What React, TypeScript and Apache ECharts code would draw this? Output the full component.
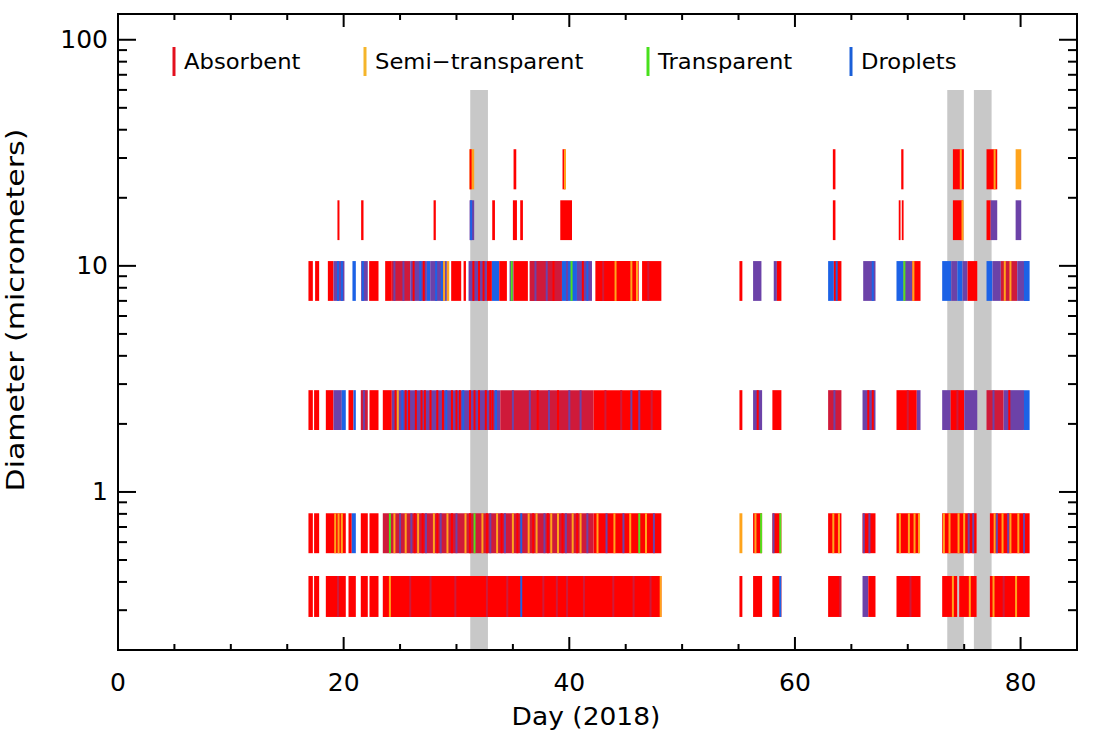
import React, { useEffect, useRef } from "react";
import * as echarts from "echarts";

// ---------- axes ----------
const X_MIN = 0;
const X_MAX = 85;
const Y_MIN = 0.2;
const Y_MAX = 130;
const X_MAJOR_TICKS = [0, 20, 40, 60, 80];
const X_MINOR_TICKS = [5, 10, 15, 25, 30, 35, 45, 50, 55, 65, 70, 75];
const Y_MAJOR_TICKS = [1, 10, 100];
const Y_MINOR_TICKS = [0.3, 0.4, 0.5, 0.6, 0.7, 0.8, 0.9, 2, 3, 4, 5, 6, 7, 8, 9, 20, 30, 40, 50, 60, 70, 80, 90];

// ---------- shaded periods (days) ----------
const GAP_START = [31.22, 73.5, 75.86];
const GAP_END = [32.79, 74.97, 77.43];
const GAP_TOP = 60;

// ---------- size bins (micrometers) ----------
const ROW_LOW = [0.28, 0.536, 1.88, 7.0, 13.0, 21.8];
const ROW_HIGH = [0.425, 0.805, 2.82, 10.5, 19.5, 32.8];

// ---------- legend ----------
const LEGEND_LABELS = ["Absorbent", "Semi\u2212transparent", "Transparent", "Droplets"];
const LEGEND_COLORS = ["#e3101e", "#f5b52a", "#48e01c", "#1a5fd8"];

// A absorbent, S semi-transparent, T transparent, D droplets,
// M absorbent+droplets mixed, C absorbent with some droplets
const CODE_COLORS: Record<string, string> = {
  A: "#ff0000",
  S: "#ffa41c",
  T: "#52e01e",
  D: "#1c62e6",
  M: "#6c42a8",
  C: "#cf1a3a",
};

// ---------- observed segments per bin: [startDay, endDay, type] ----------
const ROW0_SEGMENTS: [number, number, string][] = [
  [16.88, 17.27, "A"], [17.38, 17.83, "A"], [18.42, 20.19, "A"], [20.43, 21.08, "A"],
  [21.52, 22.14, "A"], [22.29, 23.09, "A"], [23.47, 48.16, "A"],
  [55.08, 55.34, "A"], [56.29, 57.09, "A"], [58.0, 58.8, "A"], [62.94, 64.12, "A"],
  [65.99, 66.5, "M"], [66.5, 67.14, "A"], [69.0, 71.13, "A"], [73.05, 74.38, "A"],
  [74.56, 76.1, "A"], [77.28, 80.8, "A"],
];
const ROW1_SEGMENTS: [number, number, string][] = [
  [16.88, 17.27, "A"], [17.38, 17.83, "A"], [18.42, 20.19, "A"], [20.43, 20.72, "A"],
  [20.72, 21.08, "D"], [21.52, 22.14, "A"], [22.29, 23.09, "A"], [23.47, 42.16, "C"],
  [42.16, 48.16, "A"],
  [55.08, 55.34, "S"], [56.29, 57.09, "A"], [58.0, 58.8, "A"], [62.94, 64.12, "A"],
  [65.99, 67.14, "A"], [69.0, 71.04, "A"], [73.05, 76.1, "A"], [77.28, 80.8, "A"],
];
const ROW2_SEGMENTS: [number, number, string][] = [
  [16.88, 17.27, "A"], [17.38, 17.83, "A"], [18.42, 19.1, "A"], [19.1, 19.84, "M"],
  [19.84, 20.19, "D"], [20.43, 20.87, "A"], [20.87, 21.08, "D"], [21.52, 22.14, "C"],
  [22.29, 23.09, "A"], [23.47, 24.27, "A"], [24.27, 33.88, "M"], [33.88, 42.16, "C"],
  [42.16, 48.16, "A"],
  [55.08, 55.34, "A"], [56.29, 57.09, "M"], [58.0, 58.8, "A"], [62.94, 64.12, "C"],
  [65.99, 67.14, "M"], [69.0, 70.8, "A"], [70.8, 71.13, "M"], [73.05, 73.8, "M"],
  [73.8, 75.0, "A"], [75.0, 76.16, "M"], [76.98, 78.5, "C"], [78.5, 80.3, "M"],
  [80.3, 80.8, "D"],
];
const ROW3_SEGMENTS: [number, number, string][] = [
  [16.88, 17.27, "A"], [17.47, 17.83, "A"], [18.6, 19.1, "A"], [19.1, 20.07, "M"],
  [20.78, 21.08, "D"], [21.55, 22.14, "M"], [22.26, 23.09, "A"], [23.68, 24.27, "A"],
  [24.27, 25.9, "C"], [25.9, 27.38, "M"], [27.38, 27.67, "D"], [27.67, 29.15, "M"],
  [29.15, 29.36, "S"], [29.53, 30.42, "A"], [30.63, 30.84, "A"], [31.07, 32.7, "M"],
  [32.7, 33.14, "A"], [33.14, 33.79, "D"], [33.79, 34.47, "A"], [34.71, 35.06, "M"],
  [35.06, 36.33, "A"], [36.48, 39.35, "C"], [39.35, 40.68, "D"], [40.68, 42.01, "M"],
  [42.31, 46.15, "A"], [46.45, 48.16, "A"],
  [55.08, 55.34, "A"], [56.29, 57.03, "M"], [58.12, 58.4, "M"], [58.4, 58.8, "A"],
  [62.94, 63.45, "D"], [63.45, 64.12, "A"], [66.05, 67.14, "M"], [69.0, 69.6, "D"],
  [69.6, 70.4, "M"], [70.4, 71.13, "A"], [73.05, 73.85, "D"], [73.85, 74.4, "M"],
  [74.4, 74.85, "D"], [74.85, 75.3, "M"], [75.3, 76.16, "A"], [76.98, 77.5, "D"],
  [77.5, 78.25, "M"], [78.25, 79.7, "C"], [79.7, 80.3, "M"], [80.3, 80.8, "D"],
];
const ROW4_SEGMENTS: [number, number, string][] = [
  [19.45, 19.63, "A"], [21.55, 21.76, "A"], [27.97, 28.17, "A"], [31.16, 31.57, "M"],
  [33.17, 33.41, "A"], [35.0, 35.36, "A"], [35.65, 35.89, "A"], [39.2, 40.24, "A"],
  [63.36, 63.59, "A"], [69.2, 69.33, "A"], [69.47, 69.6, "A"], [74.0, 74.91, "A"],
  [76.98, 77.35, "A"], [77.35, 77.93, "M"], [79.56, 80.06, "M"],
];
const ROW5_SEGMENTS: [number, number, string][] = [
  [31.16, 31.57, "S"], [35.06, 35.3, "A"], [39.4, 39.65, "A"], [63.36, 63.59, "A"],
  [69.42, 69.62, "A"], [74.0, 74.97, "A"], [76.98, 77.93, "A"], [79.56, 80.06, "S"],
];

// ---------- single observations drawn as thin lines: [day, type] ----------
const ROW0_STRIPES: [number, string][] = [
  [19.5, "C"], [24.1, "S"], [25.9, "C"], [27.7, "C"], [29.9, "C"], [32.7, "C"], [34.5, "C"],
  [35.74, "D"], [37.7, "C"], [38.9, "C"], [39.8, "C"], [41.3, "C"], [43.9, "C"], [45.7, "C"],
  [47.2, "C"], [48.1, "S"], [58.7, "D"], [64.0, "C"], [70.24, "C"], [74.0, "S"], [75.5, "S"],
  [77.6, "S"], [78.5, "C"], [79.6, "S"],
];
const ROW1_STRIPES: [number, string][] = [
  [19.25, "S"], [19.55, "S"], [19.84, "S"], [24.1, "T"], [24.5, "S"], [25.0, "M"], [25.5, "S"],
  [26.0, "M"], [26.3, "A"], [26.6, "S"], [27.0, "A"], [27.3, "M"], [28.0, "S"], [28.3, "A"],
  [28.6, "M"], [29.2, "S"], [29.6, "A"], [30.0, "M"], [30.8, "S"], [31.2, "A"], [31.6, "T"],
  [32.3, "S"], [32.7, "A"], [33.0, "M"], [33.6, "S"], [34.0, "A"], [34.3, "M"], [35.0, "S"],
  [35.4, "A"], [35.74, "D"], [36.4, "S"], [36.8, "A"], [37.1, "S"], [37.8, "M"], [38.1, "A"],
  [38.4, "S"], [39.0, "S"], [39.4, "A"], [39.7, "M"], [40.3, "S"], [40.7, "A"], [41.0, "S"],
  [41.6, "M"], [42.5, "S"], [43.3, "M"], [44.0, "S"], [44.8, "M"], [45.4, "S"], [46.2, "T"],
  [46.8, "S"], [47.5, "M"],
  [56.5, "S"], [57.0, "T"], [58.1, "M"], [58.7, "T"], [63.4, "S"], [63.9, "S"], [66.1, "M"],
  [66.6, "M"], [69.3, "S"], [70.1, "S"], [70.6, "S"], [71.0, "S"], [73.2, "S"], [73.7, "S"],
  [74.5, "S"], [75.0, "S"], [75.4, "M"], [75.8, "M"], [77.7, "S"], [77.9, "M"], [78.4, "S"],
  [78.9, "M"], [79.1, "S"], [79.8, "S"], [80.3, "M"],
];
const ROW2_STRIPES: [number, string][] = [
  [21.8, "M"], [24.6, "A"], [24.8, "S"], [25.2, "D"], [25.5, "A"], [25.8, "A"], [26.4, "A"],
  [26.9, "A"], [27.2, "A"], [27.7, "A"], [28.3, "A"], [28.8, "A"], [29.1, "D"], [29.6, "A"],
  [30.0, "A"], [30.3, "A"], [30.6, "D"], [31.2, "A"], [31.6, "A"], [32.0, "A"], [32.6, "A"],
  [33.0, "A"], [33.2, "A"], [33.5, "D"], [35.0, "M"], [36.5, "M"], [37.2, "A"], [38.2, "M"],
  [39.0, "A"], [40.0, "M"], [41.0, "M"], [43.2, "C"], [44.6, "C"], [45.5, "M"], [46.2, "M"],
  [47.3, "C"],
  [56.7, "A"], [63.5, "M"], [66.5, "A"], [66.9, "A"], [70.0, "C"], [74.4, "C"], [77.6, "M"],
  [79.0, "A"],
];
const ROW3_STRIPES: [number, string][] = [
  [19.5, "D"], [19.85, "D"], [21.7, "D"], [24.5, "M"], [25.3, "M"], [26.2, "A"], [26.8, "D"],
  [27.1, "A"], [28.2, "D"], [28.7, "D"], [28.9, "S"], [31.5, "A"], [32.0, "A"], [32.4, "A"],
  [34.9, "T"], [37.0, "M"], [38.0, "M"], [38.6, "A"], [39.8, "M"], [40.2, "T"], [41.2, "A"],
  [41.6, "D"], [43.0, "C"], [44.1, "S"], [45.5, "S"], [46.0, "S"], [47.0, "C"],
  [63.7, "D"], [66.9, "D"], [69.7, "T"], [70.5, "S"], [78.6, "S"], [79.1, "S"],
];
const ROW4_STRIPES: [number, string][] = [[31.3, "D"], [74.85, "S"]];
const ROW5_STRIPES: [number, string][] = [[31.25, "A"], [39.62, "S"], [74.7, "S"], [77.7, "S"]];

const ROW_SEGMENTS = [ROW0_SEGMENTS, ROW1_SEGMENTS, ROW2_SEGMENTS, ROW3_SEGMENTS, ROW4_SEGMENTS, ROW5_SEGMENTS];
const ROW_STRIPES = [ROW0_STRIPES, ROW1_STRIPES, ROW2_STRIPES, ROW3_STRIPES, ROW4_STRIPES, ROW5_STRIPES];

const FONT = "DejaVu Sans";

function buildOption(): any {
  const segCodes: string[] = [];
  const segData: number[][] = [];
  ROW_SEGMENTS.forEach((segs, r) =>
    segs.forEach(([s, e, c]) => {
      segData.push([s, e, ROW_LOW[r], ROW_HIGH[r]]);
      segCodes.push(c);
    })
  );
  const stripeCodes: string[] = [];
  const stripeData: number[][] = [];
  ROW_STRIPES.forEach((st, r) =>
    st.forEach(([d, c]) => {
      stripeData.push([d, ROW_LOW[r], ROW_HIGH[r]]);
      stripeCodes.push(c);
    })
  );
  const gapData = GAP_START.map((s, i) => [s, GAP_END[i], Y_MIN, GAP_TOP]);

  const yTickSeries = (ticks: number[], len: number, name: string) => ({
    type: "custom",
    name,
    z: 8,
    silent: true,
    encode: { x: 0, y: 1 },
    data: ticks.map((v) => [X_MIN, v]),
    renderItem: (params: any, api: any) => {
      const v = api.value(1);
      const l = api.coord([X_MIN, v]);
      const r = api.coord([X_MAX, v]);
      return {
        type: "group",
        children: [
          { type: "line", shape: { x1: l[0], y1: l[1], x2: l[0] + len, y2: l[1] }, style: { stroke: "#000", lineWidth: 2 } },
          { type: "line", shape: { x1: r[0] - len, y1: r[1], x2: r[0], y2: r[1] }, style: { stroke: "#000", lineWidth: 2 } },
        ],
      };
    },
  });
  const xTickSeries = (ticks: number[], len: number, name: string) => ({
    type: "custom",
    name,
    z: 8,
    silent: true,
    encode: { x: 0, y: 1 },
    data: ticks.map((v) => [v, 1]),
    renderItem: (params: any, api: any) => {
      const v = api.value(0);
      const b = api.coord([v, Y_MIN]);
      const t = api.coord([v, Y_MAX]);
      return {
        type: "group",
        children: [
          { type: "line", shape: { x1: b[0], y1: b[1], x2: b[0], y2: b[1] - len }, style: { stroke: "#000", lineWidth: 2 } },
          { type: "line", shape: { x1: t[0], y1: t[1], x2: t[0], y2: t[1] + len }, style: { stroke: "#000", lineWidth: 2 } },
        ],
      };
    },
  });

  const legendGraphics: any[] = [];
  const legendX = [174, 365, 648, 851];
  LEGEND_LABELS.forEach((label, i) => {
    legendGraphics.push({
      type: "rect",
      shape: { x: legendX[i] - 1.5, y: 47, width: 3, height: 29 },
      style: { fill: LEGEND_COLORS[i] },
      z: 20,
    });
    legendGraphics.push({
      type: "text",
      x: legendX[i] + 10,
      y: 62,
      scaleX: 1.08,
      z: 20,
      style: {
        text: label,
        fontSize: 21,
        fontFamily: FONT,
        fill: "#000",
        textAlign: "left",
        align: "left",
        textVerticalAlign: "middle",
        verticalAlign: "middle",
      },
    });
  });

  return {
    animation: false,
    backgroundColor: "#ffffff",
    grid: {
      left: 118,
      right: 17,
      top: 14,
      bottom: 92,
      show: true,
      borderColor: "#000",
      borderWidth: 2,
      backgroundColor: "transparent",
      z: 10,
    },
    xAxis: {
      type: "value",
      min: X_MIN,
      max: X_MAX,
      interval: 20,
      axisLine: { show: false, onZero: false },
      axisTick: { show: false },
      splitLine: { show: false },
      axisLabel: {
        margin: 20,
        fontSize: 25,
        fontFamily: FONT,
        color: "#000",
        formatter: (v: number) => (v % 20 === 0 ? String(v) : ""),
      },
    },
    yAxis: {
      type: "log",
      logBase: 10,
      min: Y_MIN,
      max: Y_MAX,
      axisLine: { show: false },
      axisTick: { show: false },
      splitLine: { show: false },
      minorTick: { show: false },
      axisLabel: {
        margin: 10,
        fontSize: 25,
        fontFamily: FONT,
        color: "#000",
        showMinLabel: false,
        showMaxLabel: false,
        formatter: (v: number) => String(Math.round(v)),
      },
    },
    series: [
      {
        type: "custom",
        name: "Gaps",
        z: 1,
        silent: true,
        encode: { x: [0, 1], y: [2, 3] },
        data: gapData,
        renderItem: (params: any, api: any) => {
          const p0 = api.coord([api.value(0), api.value(3)]);
          const p1 = api.coord([api.value(1), api.value(2)]);
          return {
            type: "rect",
            shape: { x: p0[0], y: p0[1], width: p1[0] - p0[0], height: p1[1] - p0[1] },
            style: { fill: "#c8c8c8" },
          };
        },
      },
      {
        type: "custom",
        name: "Particles",
        z: 3,
        silent: true,
        encode: { x: [0, 1], y: [2, 3] },
        data: segData,
        renderItem: (params: any, api: any) => {
          const p0 = api.coord([api.value(0), api.value(3)]);
          const p1 = api.coord([api.value(1), api.value(2)]);
          const w = Math.max(p1[0] - p0[0], 1.8);
          return {
            type: "rect",
            shape: { x: p0[0], y: p0[1], width: w, height: p1[1] - p0[1] },
            style: { fill: CODE_COLORS[segCodes[params.dataIndex]] },
          };
        },
      },
      {
        type: "custom",
        name: "Single",
        z: 4,
        silent: true,
        encode: { x: 0, y: [1, 2] },
        data: stripeData,
        renderItem: (params: any, api: any) => {
          const p0 = api.coord([api.value(0), api.value(2)]);
          const p1 = api.coord([api.value(0), api.value(1)]);
          return {
            type: "rect",
            shape: { x: p0[0] - 1, y: p0[1], width: 2, height: p1[1] - p0[1] },
            style: { fill: CODE_COLORS[stripeCodes[params.dataIndex]] },
          };
        },
      },
      yTickSeries(Y_MAJOR_TICKS, 18, "yMajor"),
      yTickSeries(Y_MINOR_TICKS, 9, "yMinor"),
      xTickSeries(X_MAJOR_TICKS, 13, "xMajor"),
      xTickSeries(X_MINOR_TICKS, 6, "xMinor"),
    ],
    graphic: [
      ...legendGraphics,
      {
        type: "text",
        x: 586,
        y: 716,
        scaleX: 1.06,
        style: {
          text: "Day (2018)",
          fontSize: 25,
          fontFamily: FONT,
          fill: "#000",
          textAlign: "center",
          align: "center",
          textVerticalAlign: "middle",
          verticalAlign: "middle",
        },
      },
      {
        type: "text",
        x: 15,
        y: 310,
        rotation: Math.PI / 2,
        scaleX: 1.2,
        style: {
          text: "Diameter (micrometers)",
          fontSize: 25,
          fontFamily: FONT,
          fill: "#000",
          textAlign: "center",
          align: "center",
          textVerticalAlign: "middle",
          verticalAlign: "middle",
        },
      },
    ],
  };
}

export default function App() {
  const ref = useRef<HTMLDivElement>(null);
  useEffect(() => {
    if (!ref.current) return;
    const chart = echarts.init(ref.current, undefined, { renderer: "svg" });
    chart.setOption(buildOption());
    return () => chart.dispose();
  }, []);
  return (
    <div
      ref={ref}
      style={{ position: "fixed", left: 0, top: 0, width: 1094, height: 742, background: "#fff" }}
    />
  );
}
